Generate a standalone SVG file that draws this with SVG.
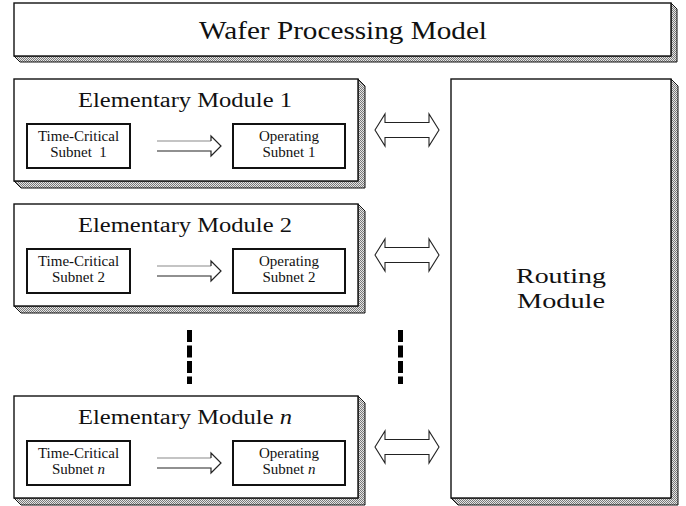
<svg xmlns="http://www.w3.org/2000/svg" width="686" height="506" viewBox="0 0 686 506">
<defs>
<pattern id="dots" width="2" height="2" patternUnits="userSpaceOnUse">
<rect width="2" height="2" fill="#e6e6e6"/>
<rect width="1" height="1" fill="#7a7a7a"/>
<rect x="1" y="1" width="1" height="1" fill="#7a7a7a"/>
</pattern>
</defs>
<style>
.front{fill:#fff;stroke:#111;stroke-width:1.4}
.ext{fill:url(#dots);stroke:#111;stroke-width:1}
.box{fill:#fff;stroke:#111;stroke-width:2}
.t{font-family:"Liberation Serif","Times New Roman",serif;fill:#111;text-anchor:middle}
.big{font-size:25px}
.mt{font-size:20px}
.st{font-size:15px}
.rt{font-size:22px}
.arr{fill:none;stroke:#222;stroke-width:1.2;stroke-linejoin:miter}
.lite{fill:none;stroke:#8a8a8a;stroke-width:1.2}
.darr{fill:#fff;stroke:#222;stroke-width:1.1}
.dash{stroke:#000;stroke-width:5;stroke-dasharray:12 3.5;fill:none}
</style>

<g id="title">
<path class="ext" d="M671,3 L677,9 L677,62 L20,62 L14,56 L671,56 Z"/>
<rect class="front" x="14" y="3" width="657" height="53"/>
<text class="t big" x="343" y="39" textLength="288" lengthAdjust="spacingAndGlyphs">Wafer Processing Model</text>
</g>

<g id="module1">
<path class="ext" d="M358,79 L365,86 L365,188 L21,188 L14,181 L358,181 Z"/>
<rect class="front" x="14" y="79" width="344" height="102"/>
<text class="t mt" x="185" y="107" textLength="214" lengthAdjust="spacingAndGlyphs">Elementary Module 1</text>
<g id="tc1">
<rect class="box" x="27" y="124" width="103" height="44"/>
<text class="t st" x="78.5" y="141">Time-Critical</text>
<text class="t st" x="78.5" y="157" xml:space="preserve">Subnet  1</text>
</g>
<g id="op1">
<rect class="box" x="233" y="124" width="112" height="44"/>
<text class="t st" x="289" y="141">Operating</text>
<text class="t st" x="289" y="157">Subnet 1</text>
</g>
</g>

<g id="module2">
<path class="ext" d="M358,204 L365,211 L365,313 L21,313 L14,306 L358,306 Z"/>
<rect class="front" x="14" y="204" width="344" height="102"/>
<text class="t mt" x="185" y="232" textLength="214" lengthAdjust="spacingAndGlyphs">Elementary Module 2</text>
<g id="tc2">
<rect class="box" x="27" y="249" width="103" height="44"/>
<text class="t st" x="78.5" y="266">Time-Critical</text>
<text class="t st" x="78.5" y="282">Subnet 2</text>
</g>
<g id="op2">
<rect class="box" x="233" y="249" width="112" height="44"/>
<text class="t st" x="289" y="266">Operating</text>
<text class="t st" x="289" y="282">Subnet 2</text>
</g>
</g>

<g id="modulen">
<path class="ext" d="M358,396 L365,403 L365,505 L21,505 L14,498 L358,498 Z"/>
<rect class="front" x="14" y="396" width="344" height="102"/>
<text class="t mt" x="185" y="424" textLength="214" lengthAdjust="spacingAndGlyphs">Elementary Module <tspan font-style="italic">n</tspan></text>
<g id="tcn">
<rect class="box" x="27" y="441" width="103" height="44"/>
<text class="t st" x="78.5" y="458">Time-Critical</text>
<text class="t st" x="78.5" y="474">Subnet <tspan font-style="italic">n</tspan></text>
</g>
<g id="opn">
<rect class="box" x="233" y="441" width="112" height="44"/>
<text class="t st" x="289" y="458">Operating</text>
<text class="t st" x="289" y="474">Subnet <tspan font-style="italic">n</tspan></text>
</g>
</g>

<g id="routing">
<path class="ext" d="M671,79 L678,86 L678,505 L458,505 L451,498 L671,498 Z"/>
<rect class="front" x="451" y="79" width="220" height="419"/>
<text class="t rt" x="561" y="282.5" textLength="90" lengthAdjust="spacingAndGlyphs">Routing</text>
<text class="t rt" x="561" y="307.5" textLength="88" lengthAdjust="spacingAndGlyphs">Module</text>
</g>

<g id="connectors">
<path class="lite" d="M157,141 H211"/>
<path class="arr" d="M211,141 V136 L221,146 L211,156 V151 H157"/>
<path class="lite" d="M157,266 H211"/>
<path class="arr" d="M211,266 V261 L221,271 L211,281 V276 H157"/>
<path class="lite" d="M157,458 H211"/>
<path class="arr" d="M211,458 V453 L221,463 L211,473 V468 H157"/>
<path class="darr" d="M375,130 L385,114 V122.5 H429 V114 L439,130 L429,146 V137.5 H385 V146 Z"/>
<path class="darr" d="M375,255 L385,239 V247.5 H429 V239 L439,255 L429,271 V262.5 H385 V271 Z"/>
<path class="darr" d="M375,447 L385,431 V439.5 H429 V431 L439,447 L429,463 V454.5 H385 V463 Z"/>
<line class="dash" x1="189.5" y1="330" x2="189.5" y2="384"/>
<line class="dash" x1="400.5" y1="330" x2="400.5" y2="384"/>
</g>
</svg>
